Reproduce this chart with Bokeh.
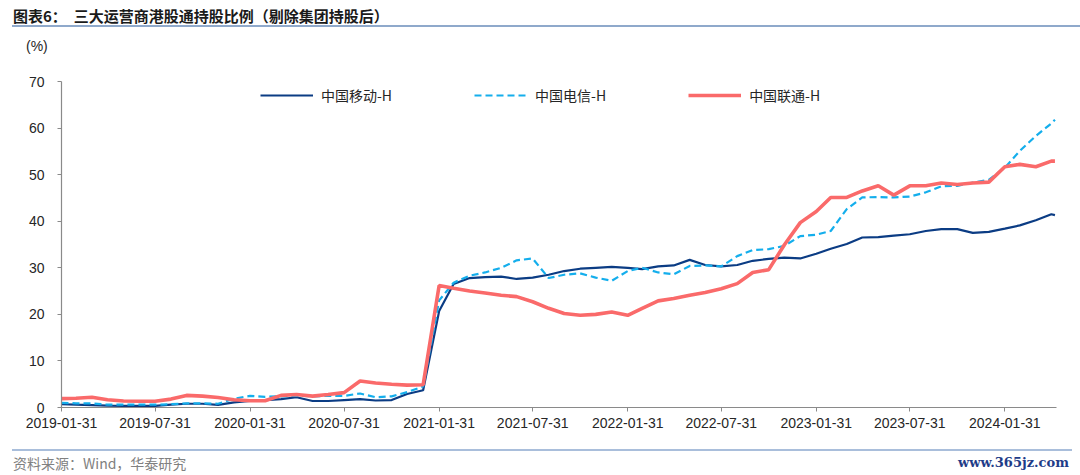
import pandas as pd
from bokeh.plotting import figure
from bokeh.models import ColumnDataSource, Range1d, FixedTicker, DatetimeTickFormatter, Div
from bokeh.layouts import column
from bokeh.embed import file_html
from bokeh.resources import INLINE

# ---------------- data ----------------
dates = [pd.Timestamp("2019-01-31") + pd.offsets.MonthEnd(k) for k in range(64)] + [pd.Timestamp("2024-05-07")]

mobile = [0.7, 0.6, 0.5, 0.4, 0.35, 0.35, 0.35, 0.6, 0.8, 0.8,
          0.55, 1.1, 1.4, 1.6, 1.8, 2.2, 1.4, 1.4, 1.6, 1.8,
          1.5, 1.6, 2.9, 3.7, 20.7, 26.5, 27.8, 28.0, 28.1, 27.6,
          27.9, 28.5, 29.3, 29.8, 30.0, 30.2, 30.0, 29.7, 30.3, 30.5,
          31.7, 30.6, 30.3, 30.6, 31.5, 31.9, 32.2, 32.0, 33.0, 34.1,
          35.1, 36.5, 36.6, 36.9, 37.2, 37.9, 38.3, 38.3, 37.5, 37.7,
          38.4, 39.1, 40.2, 41.5, 41.3]

telecom = [1.0, 0.9, 0.9, 0.6, 0.6, 0.6, 0.6, 0.7, 0.9, 0.9,
           0.8, 1.9, 2.5, 2.3, 2.4, 2.5, 2.4, 2.5, 2.5, 3.0,
           2.2, 2.4, 3.3, 4.5, 23.0, 26.8, 28.3, 29.0, 30.0, 31.6,
           32.0, 27.8, 28.5, 28.8, 27.9, 27.2, 29.3, 30.0, 29.0, 28.6,
           30.4, 30.5, 30.3, 32.5, 33.8, 34.0, 34.7, 36.8, 37.1, 37.9,
           42.6, 45.1, 45.2, 45.1, 45.3, 46.2, 47.5, 47.6, 48.3, 48.9,
           51.5, 55.1, 58.3, 61.0, 61.8]

unicom = [1.9, 2.0, 2.2, 1.65, 1.4, 1.35, 1.35, 1.8, 2.6, 2.45,
          2.15, 1.65, 1.45, 1.45, 2.6, 2.8, 2.45, 2.8, 3.2, 5.7,
          5.25, 5.0, 4.8, 4.9, 26.2, 25.6, 25.0, 24.6, 24.1, 23.8,
          22.7, 21.3, 20.2, 19.8, 20.0, 20.5, 19.8, 21.3, 22.9, 23.4,
          24.1, 24.7, 25.5, 26.6, 29.0, 29.6, 34.9, 39.7, 42.1, 45.1,
          45.1, 46.5, 47.6, 45.6, 47.6, 47.6, 48.2, 47.9, 48.2, 48.4,
          51.7, 52.2, 51.7, 52.9, 52.9]

series_names = ["中国移动-H", "中国电信-H", "中国联通-H"]
tick_dates = ["2019-01-31", "2019-07-31", "2020-01-31", "2020-07-31", "2021-01-31",
              "2021-07-31", "2022-01-31", "2022-07-31", "2023-01-31", "2023-07-31",
              "2024-01-31"]
y_ticks = [0, 10, 20, 30, 40, 50, 60, 70]

title_text = "图表6：  三大运营商港股通持股比例（剔除集团持股后）"
unit_text = "(%)"
source_text = "资料来源：Wind，华泰研究"
watermark_text = "www.365jz.com"

W = 1080
HEAD_H = 60
FOOT_H = 28
FIG_H = 475 - HEAD_H - FOOT_H

# ---------------- header ----------------
head_html = (
    f'<div style="position:relative;width:{W}px;height:{HEAD_H}px;">'
    f'<div style="position:absolute;left:13px;top:5px;font-family:\'Noto Sans CJK SC\';'
    f'font-size:15px;font-weight:bold;color:#1a1a1a;line-height:21px;white-space:nowrap;">'
    f'{title_text.replace(" ", "&nbsp;")}</div>'
    f'<div style="position:absolute;left:12px;top:25px;width:{W - 12}px;height:2px;'
    f'background:#8FA9CB;"></div>'
    f'<div style="position:absolute;left:26px;top:37px;font-family:\'Liberation Sans\';'
    f'font-size:14px;color:#262626;line-height:18px;white-space:nowrap;">{unit_text}</div>'
    f'</div>'
)
header = Div(text=head_html, width=W, height=HEAD_H, margin=(0, 0, 0, 0))

# ---------------- footer ----------------
foot_html = (
    f'<div style="position:relative;width:{W}px;height:{FOOT_H}px;">'
    f'<div style="position:absolute;left:12px;top:2px;width:1060px;height:2px;'
    f'background:#A9BEDB;"></div>'
    f'<div style="position:absolute;left:13px;top:7px;font-family:\'Noto Sans CJK SC\';'
    f'font-size:14px;color:#808080;line-height:18px;white-space:nowrap;">{source_text}</div>'
    f'<div style="position:absolute;left:958px;top:7px;font-family:\'DejaVu Serif\';'
    f'font-size:13px;font-weight:bold;color:#1F3C88;line-height:18px;white-space:nowrap;">'
    f'{watermark_text}</div>'
    f'</div>'
)
footer = Div(text=foot_html, width=W, height=FOOT_H, margin=(0, 0, 0, 0))

# ---------------- figure ----------------
src = ColumnDataSource(dict(date=dates, mobile=mobile, telecom=telecom, unicom=unicom))

p = figure(width=W, height=FIG_H, x_axis_type="datetime", output_backend="svg",
           toolbar_location=None, title=None,
           x_range=Range1d(pd.Timestamp("2019-01-31"), pd.Timestamp("2024-05-10")),
           y_range=Range1d(0, 70),
           min_border_left=61, min_border_right=24, min_border_top=21, min_border_bottom=40,
           margin=(0, 0, 0, 0))
p.outline_line_color = None
p.xgrid.grid_line_color = None
p.ygrid.grid_line_color = None
p.background_fill_color = "white"
p.border_fill_color = "white"

p.line("date", "mobile", source=src, color="#0B3C84", line_width=2.2, legend_label=series_names[0])
p.line("date", "telecom", source=src, color="#14AEEC", line_width=2.2, line_dash="7 4",
       legend_label=series_names[1])
p.line("date", "unicom", source=src, color="#FA6A6A", line_width=3.6, legend_label=series_names[2])

# axes
ticks_ms = [pd.Timestamp(d).value / 1e6 for d in tick_dates]
p.xaxis.ticker = FixedTicker(ticks=ticks_ms)
fmt = "%Y-%m-%d"
p.xaxis.formatter = DatetimeTickFormatter(days=fmt, months=fmt, years=fmt, hours=fmt,
                                          minutes=fmt, seconds=fmt, milliseconds=fmt,
                                          minsec=fmt, hourmin=fmt, microseconds=fmt)
p.yaxis.ticker = FixedTicker(ticks=y_ticks)
for ax in (p.xaxis, p.yaxis):
    ax.axis_line_color = "#8a8a8a"
    ax.axis_line_width = 1.2
    ax.major_tick_line_color = "#8a8a8a"
    ax.major_tick_in = 0
    ax.major_tick_out = 4
    ax.minor_tick_line_color = None
    ax.major_label_text_font = "Liberation Sans"
    ax.major_label_text_font_size = "14px"
    ax.major_label_text_color = "#262626"
p.yaxis.major_label_standoff = 13
p.xaxis.major_label_standoff = 6

# legend
lg = p.legend[0]
lg.orientation = "horizontal"
lg.location = (199, 302)
lg.padding = 0
lg.margin = 0
lg.spacing = 82
lg.glyph_width = 53
lg.glyph_height = 16
lg.label_height = 16
lg.label_standoff = 8
lg.border_line_color = None
lg.background_fill_alpha = 0
lg.label_text_font = "Noto Sans CJK SC"
lg.label_text_font_size = "14px"
lg.label_text_color = "#262626"

layout = column(header, p, footer, spacing=0, margin=(0, 0, 0, 0))
open("out.html", "w").write(file_html(layout, INLINE))
